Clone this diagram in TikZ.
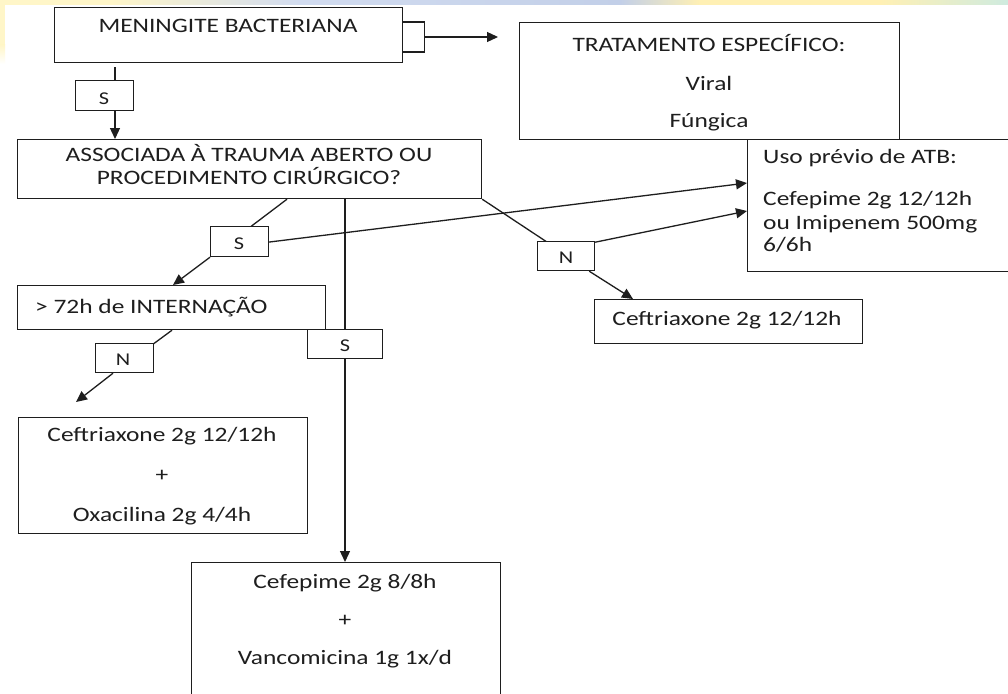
\documentclass[tikz,border=0pt]{standalone}
\usepackage{fontspec}
\setmainfont{Carlito}[FakeStretch=1.24]
\usetikzlibrary{arrows.meta,calc}
\definecolor{ink}{HTML}{1E1E1E}
\definecolor{bgyel}{HTML}{FFF6C8}
\definecolor{bgblue}{HTML}{D2DCF0}
\definecolor{bgblue2}{HTML}{C2CFE8}
\definecolor{bgyel2}{HTML}{FFF0B4}
\definecolor{bggreen}{HTML}{CFEBDF}
\begin{document}
\begin{tikzpicture}[x=1pt,y=-1pt,
  box/.style={draw=ink, line width=1.2pt, anchor=north west, inner sep=0pt, fill=white},
  tag/.style={box, minimum width=58pt, minimum height=30pt},
  txt/.style={text=ink, font=\fontsize{20.5}{24}\selectfont, inner sep=0pt},
  stxt/.style={text=ink, font=\fontsize{18}{20}\selectfont, inner sep=0pt},
  conn/.style={draw=ink, line width=1.3pt},
  arr/.style={conn, -{Triangle[length=11pt,width=10pt]}}]
\useasboundingbox (0,0) rectangle (1008,693);
\fill[white] (0,0) rectangle (1008,693);
% slide background remnants
\fill[bgyel] (0,0) rectangle (110,5);
\shade[left color=bgyel, right color=bgblue] (110,0) rectangle (300,5);
\shade[left color=bgblue, right color=bgblue2] (300,0) rectangle (620,5);
\shade[left color=bgblue2, right color=bgyel2] (620,0) rectangle (700,5);
\fill[bgyel2] (700,0) rectangle (880,5);
\shade[left color=bgyel2, right color=bggreen] (880,0) rectangle (1008,5);
\fill[bgyel] (0,0) rectangle (5,45);
\shade[top color=bgyel, bottom color=white] (0,45) rectangle (5,64);

% boxes
\node[box, minimum width=348pt, minimum height=55pt] (mb) at (54,7) {};
\node[box, minimum width=380pt, minimum height=117pt] (tr) at (519,22) {};
\node[box, minimum width=464pt, minimum height=59pt] (as) at (17,139) {};
\node[box, minimum width=270pt, minimum height=132pt] (up) at (747,139) {};
\node[box, minimum width=308pt, minimum height=44pt] (b72) at (17,285) {};
\node[box, minimum width=268pt, minimum height=44pt] (cf) at (594,299) {};
\node[box, minimum width=289pt, minimum height=116pt] (ox) at (18,417) {};
\node[box, minimum width=309pt, minimum height=160pt] (ce) at (191,562) {};

% texts
\node[txt, anchor=base] (mbt) at (228,33) {MENINGITE BACTERIANA};
\node[txt, anchor=base] (tr1) at (709,52) {TRATAMENTO ESPECÍFICO:};
\node[txt, anchor=base] (tr2) at (709,90) {Viral};
\node[txt, anchor=base] (tr3) at (709,127) {Fúngica};
\node[txt, anchor=base] (as1) at (249,161) {ASSOCIADA À TRAUMA ABERTO OU};
\node[txt, anchor=base] (as2) at (249,184) {PROCEDIMENTO CIRÚRGICO?};
\node[txt, anchor=base west] (up1) at (763,163) {Uso prévio de ATB:};
\node[txt, anchor=base west] (up2) at (763,205) {Cefepime 2g 12/12h};
\node[txt, anchor=base west] (up3) at (763,229) {ou Imipenem 500mg};
\node[txt, anchor=base west] (up4) at (763,251) {6/6h};
\node[txt, anchor=base west] (b72t) at (35,313) {> 72h de INTERNAÇÃO};
\node[txt, anchor=base] (cft) at (727,325) {Ceftriaxone 2g 12/12h};
\node[txt, anchor=base] (ox1) at (162,441) {Ceftriaxone 2g 12/12h};
\node[txt] (ox2) at (162,476) {+};
\node[txt, anchor=base] (ox3) at (162,521) {Oxacilina 2g 4/4h};
\node[txt, anchor=base] (ce1) at (345,588) {Cefepime 2g 8/8h};
\node[txt] (ce2) at (345,621) {+};
\node[txt, anchor=base] (ce3) at (345,664) {Vancomicina 1g 1x/d};

% bracket on the first box and its arrow
\coordinate (brk) at ($(mb.north east)+(21,30)$);
\coordinate (trgap) at ($(tr.west |- brk)+(-21,0)$);
\draw[conn, line width=1.1pt] ($(mb.north east)+(0,15)$) -- ($(mb.north east)+(21,15)$) -- ($(mb.north east)+(21,45)$) -- ($(mb.north east)+(0,45)$);
\draw[arr] (brk) -- (trgap);

% connectors (drawn before the tags so tags sit on top)
\draw[conn] ($(mb.south west)+(61,4)$) -- ($(as.north west)+(98,-59)$);
\draw[arr] ($(as.north west)+(98,-29)$) -- ($(as.north west)+(98,0)$);
\draw[conn] ($(as.south west)+(270,0)$) -- ($(as.south west)+(233,28)$);
\draw[arr] ($(as.south west)+(193,58)$) -- ($(b72.north west)+(156,0)$);
\draw[arr] ($(as.south west)+(251,43)$) -- ($(up.north west)+(0,44)$);
\draw[conn] ($(as.south west)+(328,0)$) -- ($(as.south west)+(328,131)$);
\draw[arr] ($(as.south west)+(328,160)$) -- ($(ce.north west)+(154,0)$);
\draw[conn] (as.south east) -- ($(as.south east)+(65,43)$);
\draw[arr] ($(as.south east)+(113,43)$) -- ($(up.north west)+(0,72)$);
\draw[arr] ($(as.south east)+(107,72)$) -- ($(cf.north west)+(39,0)$);
\draw[conn] ($(b72.south west)+(155,0)$) -- ($(b72.south west)+(136,14)$);
\coordinate (oxgap) at ($(ox.north west)+(58,-15)$);
\draw[arr] ($(b72.south west)+(96,43)$) -- (oxgap);

% tags
\node[tag] (s1) at (75,80) {};
\node[tag] (s2) at (210,226) {};
\node[tag, minimum width=75pt, minimum height=29pt] (s3) at (307,329) {};
\node[tag, minimum height=29pt] (n1) at (95,343) {};
\node[tag, minimum width=57pt, minimum height=29pt] (n2) at (537,241) {};
\node[stxt] (s1t) at (104,99) {S};
\node[stxt] (s2t) at (239,244) {S};
\node[stxt] (s3t) at (345,346) {S};
\node[stxt] (n1t) at (123,360) {N};
\node[stxt] (n2t) at (566,258) {N};
\end{tikzpicture}
\end{document}
